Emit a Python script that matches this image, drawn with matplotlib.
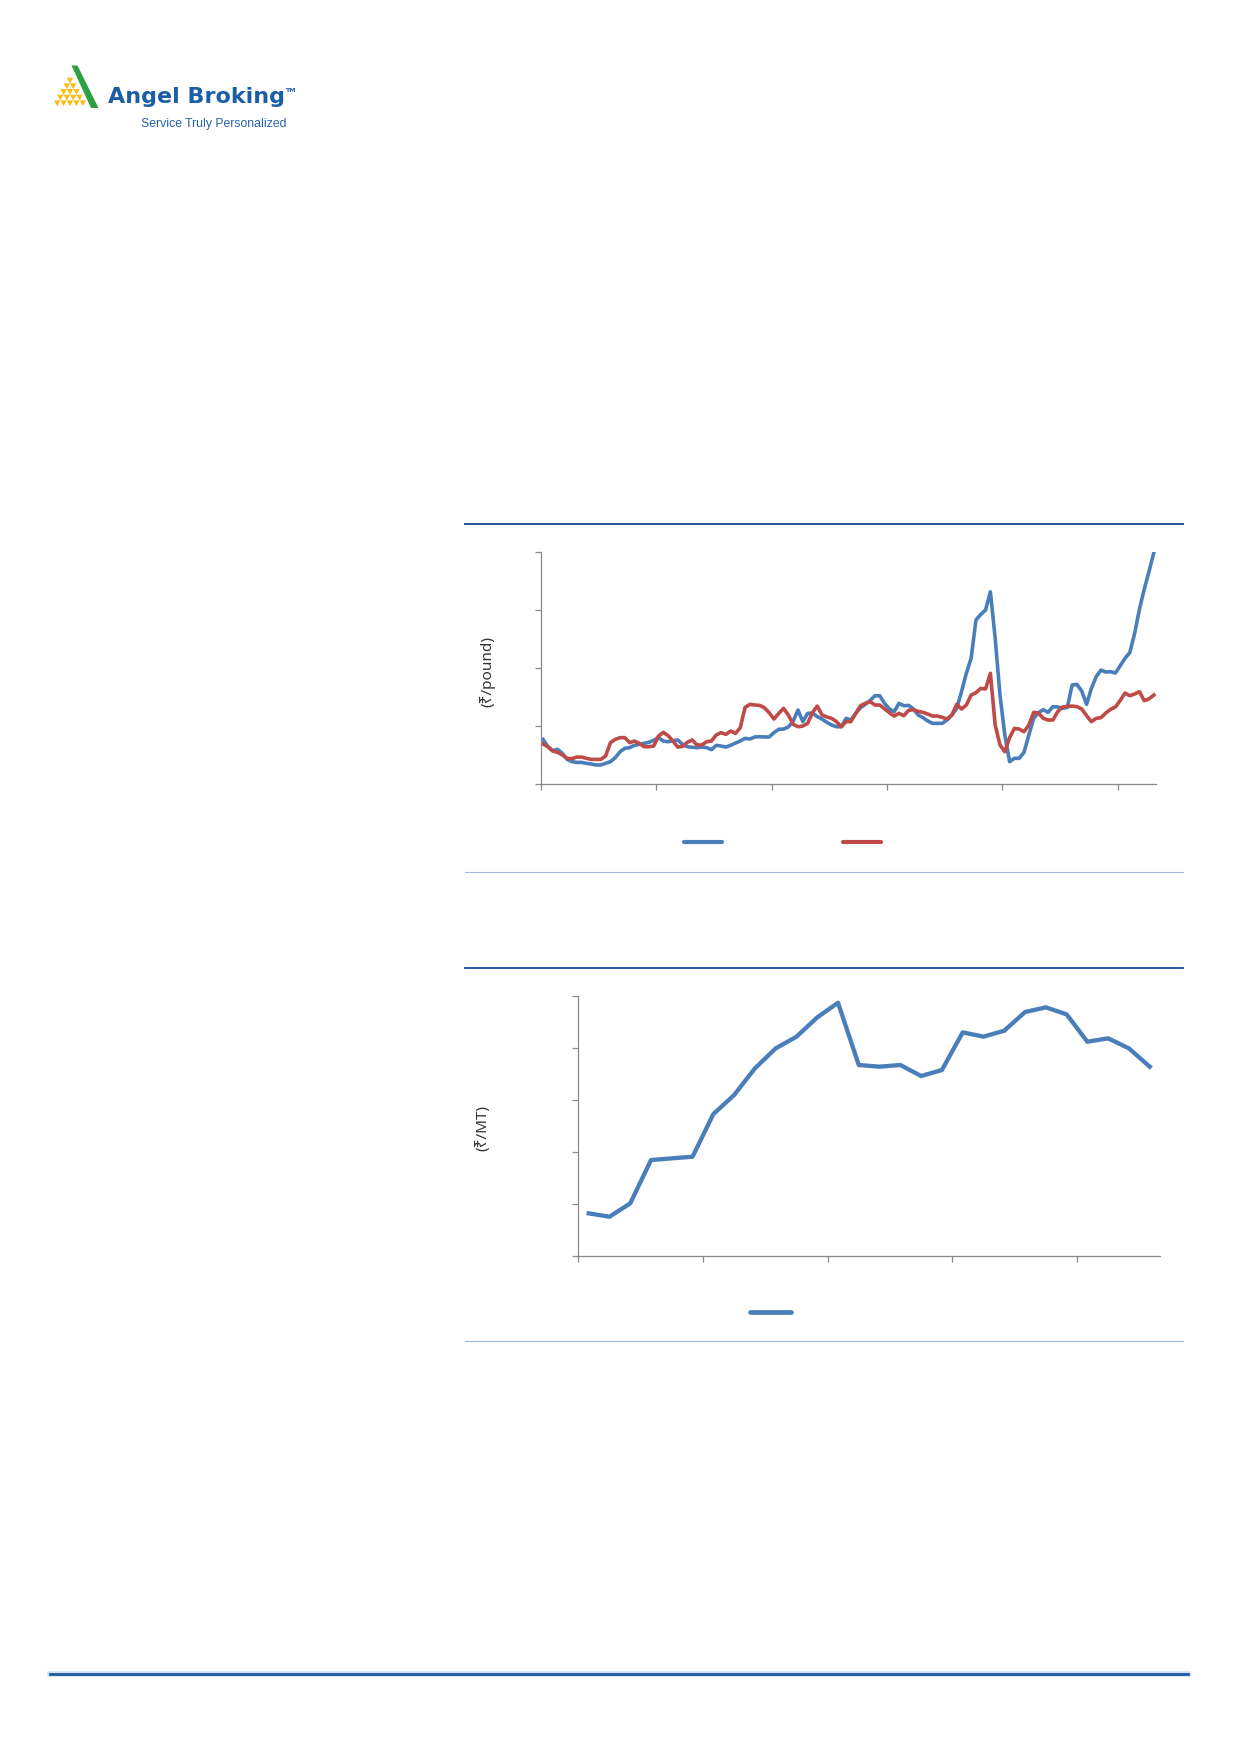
import numpy as np
import matplotlib
matplotlib.use("Agg")
import matplotlib.pyplot as plt
from matplotlib.lines import Line2D
from matplotlib.patches import Polygon

W, H = 1240, 1754

### chart 1 data - monthly prices (Rs/pound), two series
blue_prices = [38.4, 32.1, 28.7, 29.8, 26.4, 21.2, 19.2, 18.6, 18.6, 17.8,
               17.2, 16.4, 16.4, 17.8, 19.2, 22.7, 27.8, 30.7, 31.3, 33.3,
               34.1, 35.0, 35.9, 37.6, 39.9, 37.0, 36.4, 37.3, 37.9, 34.1,
               32.1, 31.6, 31.3, 31.8, 31.3, 29.6, 33.3, 32.7, 31.8, 33.3,
               35.3, 37.0, 39.3, 38.7, 40.5, 40.7, 40.5, 40.5, 44.2, 47.1,
               47.3, 49.1, 54.2, 63.7, 53.7, 60.8, 61.1, 58.0, 55.9, 53.1,
               50.8, 49.3, 49.3, 56.5, 55.1, 60.8, 65.7, 68.6, 72.0, 76.0,
               76.0, 69.4, 64.6, 62.3, 69.4, 67.4, 67.7, 64.6, 59.4, 57.1,
               54.2, 52.2, 52.2, 52.2, 55.1, 59.4, 65.1, 79.5, 95.3, 108.2,
               141.2, 146.0, 149.8, 165.5, 125.4, 76.6, 42.2, 19.2, 22.1, 22.1,
               27.3, 42.2, 56.5, 61.4, 64.0, 61.7, 66.6, 66.3, 65.1, 66.0,
               85.2, 85.8, 80.0, 68.6, 82.3, 92.4, 98.1, 96.4, 96.7, 95.5,
               101.8, 108.2, 113.3, 129.7, 150.6, 167.8, 183.3, 199.4]
red_prices = [34.4, 32.1, 28.4, 27.3, 25.0, 22.1, 21.8, 23.2, 23.2, 22.1,
              21.2, 21.2, 21.2, 24.1, 35.6, 38.4, 39.9, 39.9, 35.6, 37.0,
              35.0, 32.1, 32.1, 32.7, 41.3, 44.5, 41.6, 37.0, 31.8, 32.4,
              35.9, 37.9, 33.6, 33.6, 36.4, 37.0, 42.2, 44.2, 42.7, 45.6,
              43.6, 48.5, 66.0, 68.6, 68.0, 67.7, 65.7, 61.4, 55.9, 60.8,
              65.1, 59.4, 51.4, 49.3, 49.9, 52.2, 61.4, 67.1, 59.4, 57.7,
              56.5, 53.7, 49.3, 53.7, 53.7, 60.8, 67.4, 69.4, 70.9, 68.0,
              68.0, 64.6, 61.4, 58.5, 60.8, 58.8, 63.4, 64.0, 62.5, 61.7,
              60.2, 58.5, 58.5, 57.4, 55.9, 59.4, 68.6, 64.6, 68.0, 76.6,
              78.6, 82.3, 81.8, 95.3, 50.8, 33.6, 27.8, 40.0, 47.9, 47.3,
              45.0, 50.8, 61.7, 61.1, 56.5, 55.1, 55.1, 62.3, 66.3, 66.8,
              67.1, 66.6, 64.6, 58.8, 53.7, 56.5, 57.1, 61.1, 64.3, 66.3,
              72.0, 78.3, 76.0, 77.5, 79.5, 71.7, 73.4, 76.6]
chart1_yticks = [0, 50, 100, 150, 200]
chart1_xticks = [-0.5, 23.5, 47.5, 71.5, 95.5, 119.5]

### chart 2 data - Rs/MT
mt_prices = [8140, 7500, 10060, 18400, 18720, 19040, 27240, 30900, 36030, 39870,
             42120, 45830, 48650, 36670, 36350, 36670, 34550, 35710, 42950, 42120,
             43270, 46860, 47760, 46410, 41150, 41800, 39870, 36350]
chart2_yticks = [0, 10000, 20000, 30000, 40000, 50000]
chart2_xticks = [-0.5, 5.5, 11.5, 17.5, 23.5]

BLUE = '#4A7EBB'
RED = '#BE4B48'
RULE = '#1F559F'
LIGHT_RULE = '#A2B9D6'
AXIS = '#8A8A8A'

plt.rcParams['font.family'] = ['Noto Sans', 'DejaVu Sans']

fig = plt.figure(figsize=(W / 100, H / 100), dpi=100)


def px_rect(x0, y0, x1, y1):
    return [x0 / W, 1 - y1 / H, (x1 - x0) / W, (y1 - y0) / H]


# page overlay in pixel coordinates (logo + rules)
page = fig.add_axes([0, 0, 1, 1])
page.set_xlim(0, W)
page.set_ylim(H, 0)
page.axis('off')

# logo: yellow pyramid of small triangles
for row in range(5):
    cy = 80.5 + row * 5.7
    for m in range(row + 1):
        cx = 70 + (m - row / 2) * 6.4
        page.add_patch(Polygon([(cx - 3.2, cy - 2.9), (cx + 3.2, cy - 2.9), (cx, cy + 2.9)],
                               closed=True, color='#F7BE16', lw=0))
page.add_patch(Polygon([(71.5, 65.5), (77.5, 65.5), (98.5, 108), (91, 108)], closed=True,
                       color='#2FA043', lw=0))
page.text(108, 103, 'Angel Broking', family='DejaVu Sans', weight='bold', fontsize=16,
          color='#1A5EA8', va='baseline', ha='left')
page.text(285, 92, 'TM', family='DejaVu Sans', weight='bold', fontsize=4.5,
          color='#1A5EA8', va='baseline', ha='left')
page.text(141, 126.5, 'Service Truly Personalized', family='Liberation Sans', fontsize=8.8,
          color='#2463AC', va='baseline', ha='left')

# rules
page.plot([465, 1183], [524.3, 524.3], color=RULE, lw=1.4)
page.plot([465, 1183], [872.3, 872.3], color=LIGHT_RULE, lw=0.8)
page.plot([465, 1183], [968.3, 968.3], color=RULE, lw=1.4)
page.plot([465, 1183], [1341, 1341], color=LIGHT_RULE, lw=0.8)
page.plot([50, 1188], [1674, 1674], color='#CFE0F3', lw=4.0)
page.plot([50, 1188], [1674, 1674], color=RULE, lw=2.0)


def style_axes(ax):
    for s in ['top', 'right']:
        ax.spines[s].set_visible(False)
    for s in ['left', 'bottom']:
        ax.spines[s].set_color(AXIS)
        ax.spines[s].set_linewidth(0.9)
    ax.tick_params(direction='out', length=4.2, width=0.9, color=AXIS,
                   labelleft=False, labelbottom=False)
    ax.patch.set_alpha(0)


### chart 1
ax1 = fig.add_axes(px_rect(540.7, 551.7, 1156.3, 784))
x1 = np.arange(len(blue_prices))
ax1.plot(x1, blue_prices, color=BLUE, lw=2.6, solid_joinstyle='round')
ax1.plot(x1, red_prices, color=RED, lw=2.6, solid_joinstyle='round')
ax1.set_xlim(-0.5, len(blue_prices) - 0.5)
ax1.set_ylim(0, 200)
ax1.set_yticks(chart1_yticks)
ax1.set_xticks(chart1_xticks)
style_axes(ax1)
fs = 10
h1 = [Line2D([], [], color=BLUE, lw=3.0, solid_capstyle='round'),
      Line2D([], [], color=RED, lw=3.0, solid_capstyle='round')]
ax1.legend(h1, ['', ''], ncol=2, loc='center', frameon=False, fontsize=fs,
           handlelength=38 / (fs * 100 / 72), handletextpad=0, borderpad=0,
           columnspacing=121 / (fs * 100 / 72),
           bbox_to_anchor=(782.4 / W, 1 - 843 / H), bbox_transform=fig.transFigure)
fig.text(487 / W, 1 - 671.5 / H, '(₹/pound)', rotation=90, ha='center', va='center',
         fontsize=11, color='#333333')

### chart 2
ax2 = fig.add_axes(px_rect(578.3, 995.7, 1160.1, 1255.7))
x2 = np.arange(len(mt_prices))
ax2.plot(x2, mt_prices, color=BLUE, lw=3.1, solid_joinstyle='round')
ax2.set_xlim(-0.5, len(mt_prices) - 0.5)
ax2.set_ylim(0, 50000)
ax2.set_yticks(chart2_yticks)
ax2.set_xticks(chart2_xticks)
style_axes(ax2)
h2 = [Line2D([], [], color=BLUE, lw=3.4, solid_capstyle='round')]
ax2.legend(h2, [''], loc='center', frameon=False, fontsize=fs,
           handlelength=41 / (fs * 100 / 72), handletextpad=0, borderpad=0,
           bbox_to_anchor=(770.5 / W, 1 - 1313 / H), bbox_transform=fig.transFigure)
fig.text(483 / W, 1 - 1128 / H, '(₹/MT)', rotation=90, ha='center', va='center',
         fontsize=11, color='#333333')

fig.savefig('out.png', dpi=100)
